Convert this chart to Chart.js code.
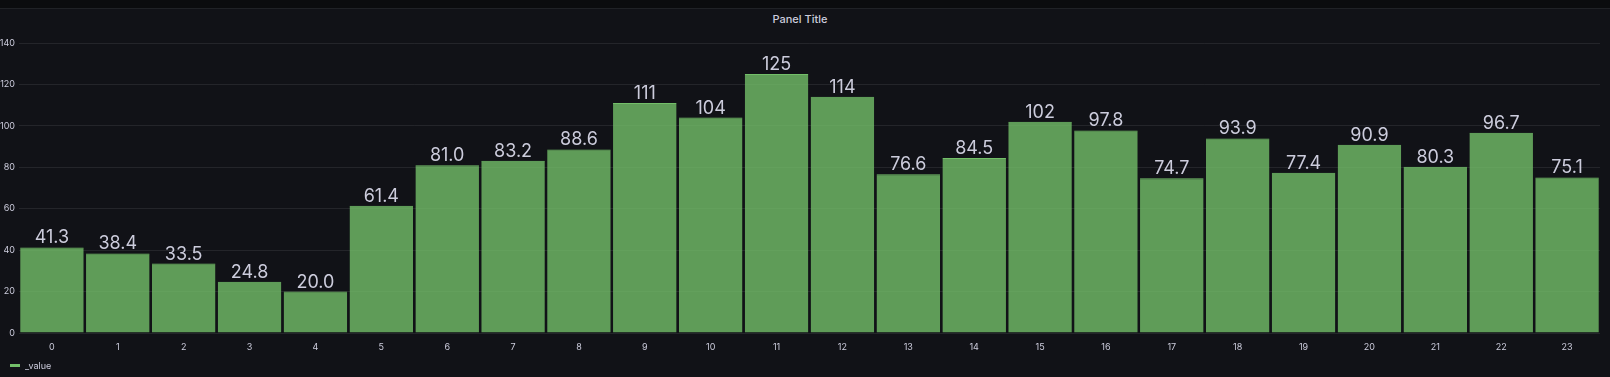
<!DOCTYPE html>
<html>
<head>
<meta charset="utf-8">
<script src="https://cdn.jsdelivr.net/npm/chart.js@4"></script>
<style>
  html, body { margin: 0; padding: 0; background: #111217; }
  #topbar { position: absolute; left: 0; top: 0; width: 1610px; height: 8px; background: #0b0c0e; border-bottom: 1px solid #202226; }
  #title { position: absolute; left: 0; top: 12px; width: 1610px; text-align: center; font: 500 11px Inter, sans-serif; color: #ccccdc; padding-right: 10px; box-sizing: border-box; }
  #wrap { position: absolute; left: 0; top: 0; width: 1610px; height: 377px; }
  #legend { position: absolute; left: 10px; top: 360px; font: 9px Inter, sans-serif; color: #ccccdc; line-height: 12px; }
  #legend .sw { display: inline-block; width: 10px; height: 3px; background: #73BF69; vertical-align: middle; margin-right: 5px; position: relative; top: -1px; }
</style>
</head>
<body>
<div id="topbar"></div>
<div id="title">Panel Title</div>
<div id="wrap"><canvas id="barChart"></canvas></div>
<div id="legend"><span class="sw"></span>_value</div>
<script>
// hours of the day
const hours = ['0', '1', '2', '3', '4', '5', '6', '7', '8', '9', '10', '11',
               '12', '13', '14', '15', '16', '17', '18', '19', '20', '21', '22', '23'];
const values = [41.3, 38.4, 33.5, 24.8, 20.0, 61.4, 81.0, 83.2, 88.6, 111, 104, 125,
                114, 76.6, 84.5, 102, 97.8, 74.7, 93.9, 77.4, 90.9, 80.3, 96.7, 75.1];
const yTicks = [0, 20, 40, 60, 80, 100, 120, 140];

const textColor = '#ccccdc';

// value labels on top of bars
const valueLabels = {
    id: 'valueLabels',
    afterDatasetsDraw(chart) {
        const ctx = chart.ctx;
        const meta = chart.getDatasetMeta(0);
        ctx.save();
        ctx.font = '18px Inter, sans-serif';
        ctx.fillStyle = textColor;
        ctx.textAlign = 'center';
        ctx.textBaseline = 'alphabetic';
        meta.data.forEach((bar, i) => {
            const v = values[i];
            const txt = v >= 100 ? v.toFixed(0) : v.toFixed(1);
            ctx.fillText(txt, bar.x, bar.y - 4);
        });
        ctx.restore();
    }
};

const config = {
    type: 'bar',
    data: {
        labels: hours,
        datasets: [{
            label: '_value',
            data: values,
            backgroundColor: 'rgba(115, 191, 105, 0.8)',
            borderColor: '#73BF69',
            borderWidth: { top: 1, left: 0, right: 0, bottom: 0 },
            borderSkipped: false,
            categoryPercentage: 1,
            barPercentage: 0.965
        }]
    },
    options: {
        responsive: true,
        maintainAspectRatio: false,
        animation: false,
        layout: { padding: { top: 43, right: 10, left: 0, bottom: 22 } },
        scales: {
            x: {
                grid: { display: false, drawTicks: false },
                border: { display: false },
                ticks: { color: textColor, font: { family: 'Inter', size: 9 }, padding: 9, maxRotation: 0 },
                afterFit(scale) { scale.height = 22; }
            },
            y: {
                min: 0,
                max: 140,
                afterBuildTicks(scale) { scale.ticks = yTicks.map(v => ({ value: v })); },
                grid: { color: 'rgba(204, 204, 220, 0.1)', drawTicks: false },
                border: { display: false },
                ticks: { color: textColor, font: { family: 'Inter', size: 9 }, padding: 4 },
                afterFit(scale) { scale.width = 19; }
            }
        },
        plugins: {
            legend: { display: false },
            title: { display: false },
            tooltip: { enabled: false }
        }
    },
    plugins: [valueLabels]
};

const ctx = document.getElementById('barChart').getContext('2d');
new Chart(ctx, config);
</script>
</body>
</html>
